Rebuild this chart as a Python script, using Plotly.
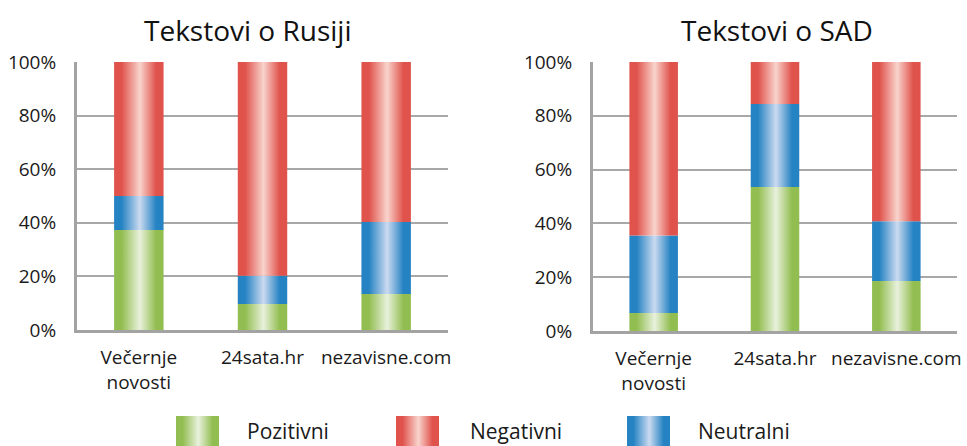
import plotly.graph_objects as go

# ---------------- data ----------------
categories = ["Večernje<br>novosti", "24sata.hr", "nezavisne.com"]
series_names = ["Pozitivni", "Negativni", "Neutralni"]

# Tekstovi o Rusiji (percent)
rus_pozitivni = [37.3, 9.7, 13.4]
rus_neutralni = [12.7, 10.5, 26.9]
rus_negativni = [50.0, 79.8, 59.7]

# Tekstovi o SAD (percent)
sad_pozitivni = [6.7, 53.5, 18.6]
sad_neutralni = [28.8, 30.9, 22.2]
sad_negativni = [64.5, 15.6, 59.2]

titles = ["Tekstovi o Rusiji", "Tekstovi o SAD"]
y_ticks = [0, 20, 40, 60, 80, 100]
y_tick_labels = ["0%", "20%", "40%", "60%", "80%", "100%"]

# ---------------- style ----------------
W, H = 967, 446
FONT = "Open Sans"
colors = {
    "Pozitivni": ("#92bd50", "#e8f1dc"),
    "Negativni": ("#e0524c", "#f8d4cc"),
    "Neutralni": ("#2583c3", "#cbdaf0"),
}
BAR_W = 0.4


def cscale(name):
    d, l = colors[name]
    return [[0, d], [0.15, d], [0.52, l], [0.85, d], [1, d]]


def px_x(p):
    return p / W


def px_y(p):
    return 1 - p / H


fig = go.Figure()

panels = [
    (("x", "y"), {"Pozitivni": rus_pozitivni, "Neutralni": rus_neutralni, "Negativni": rus_negativni}),
    (("x2", "y2"), {"Pozitivni": sad_pozitivni, "Neutralni": sad_neutralni, "Negativni": sad_negativni}),
]

for (xa, ya), data in panels:
    for i in range(len(categories)):
        base = 0.0
        for name in ["Pozitivni", "Neutralni", "Negativni"]:
            v = data[name][i]
            x0, x1 = i - BAR_W / 2, i + BAR_W / 2
            fig.add_trace(go.Scatter(
                x=[x0, x1, x1, x0, x0],
                y=[base, base, base + v, base + v, base],
                mode="lines", fill="toself",
                line=dict(width=0, color=colors[name][0]),
                fillgradient=dict(type="horizontal", colorscale=cscale(name)),
                xaxis=xa, yaxis=ya, showlegend=False,
                name=name, hoverinfo="name+text", text=f"{v:.1f}%",
            ))
            base += v

# ---------------- manual legend ----------------
legend_swatch_left = [176, 396, 627]
legend_text_left = [247, 470, 698]
SW_W, SW_H = 43, 30
for name, sx, tx in zip(series_names, legend_swatch_left, legend_text_left):
    fig.add_trace(go.Scatter(
        x=[sx, sx + SW_W, sx + SW_W, sx, sx],
        y=[0, 0, SW_H, SW_H, 0],
        mode="lines", fill="toself",
        line=dict(width=0, color=colors[name][0]),
        fillgradient=dict(type="horizontal", colorscale=cscale(name)),
        xaxis="x3", yaxis="y3", showlegend=False, hoverinfo="skip",
    ))
    fig.add_annotation(
        x=px_x(tx - 2), y=px_y(431), xref="paper", yref="paper",
        text=name, showarrow=False, xanchor="left", yanchor="middle",
        font=dict(family=FONT, size=21, color="#1a1a1a"),
    )

# ---------------- titles ----------------
for t, cx in zip(titles, [247, 777]):
    fig.add_annotation(
        x=px_x(cx), y=px_y(30), xref="paper", yref="paper",
        text=t, showarrow=False, xanchor="center", yanchor="middle",
        font=dict(family=FONT, size=28, color="#111111"),
    )

axis_common_x = dict(
    tickmode="array", tickvals=list(range(len(categories))), ticktext=categories,
    range=[-0.5, len(categories) - 0.5], showgrid=False, zeroline=False,
    showline=True, linecolor="#a3a3a3", linewidth=3,
    ticks="", ticklabelstandoff=8, automargin=False,
    tickfont=dict(family=FONT, size=19, color="#1a1a1a"), fixedrange=True,
)
axis_common_y = dict(
    range=[0, 100], tickmode="array", tickvals=y_ticks, ticktext=y_tick_labels,
    showgrid=True, gridcolor="#a8a8a8", gridwidth=2, zeroline=False,
    showline=True, linecolor="#a3a3a3", linewidth=3,
    ticks="", ticklabelstandoff=14, automargin=False,
    tickfont=dict(family=FONT, size=19, color="#1a1a1a"), fixedrange=True,
)

fig.update_layout(
    width=W, height=H,
    margin=dict(l=0, r=0, t=0, b=0, pad=0, autoexpand=False),
    paper_bgcolor="white", plot_bgcolor="white",
    showlegend=False,
    xaxis=dict(domain=[px_x(77), px_x(448)], anchor="y", **axis_common_x),
    yaxis=dict(domain=[px_y(330), px_y(62)], anchor="x", **axis_common_y),
    xaxis2=dict(domain=[px_x(593), px_x(957)], anchor="y2", **axis_common_x),
    yaxis2=dict(domain=[px_y(331), px_y(62)], anchor="x2", **axis_common_y),
    xaxis3=dict(domain=[0, 1], range=[0, W], visible=False, fixedrange=True,
                anchor="y3", automargin=False),
    yaxis3=dict(domain=[0, SW_H / H], range=[0, SW_H], visible=False, fixedrange=True,
                anchor="x3", automargin=False),
)

fig.write_html(
    "out.html",
    config={"displayModeBar": False},
    post_script="document.body.style.margin='0';document.body.style.overflow='hidden';",
)
